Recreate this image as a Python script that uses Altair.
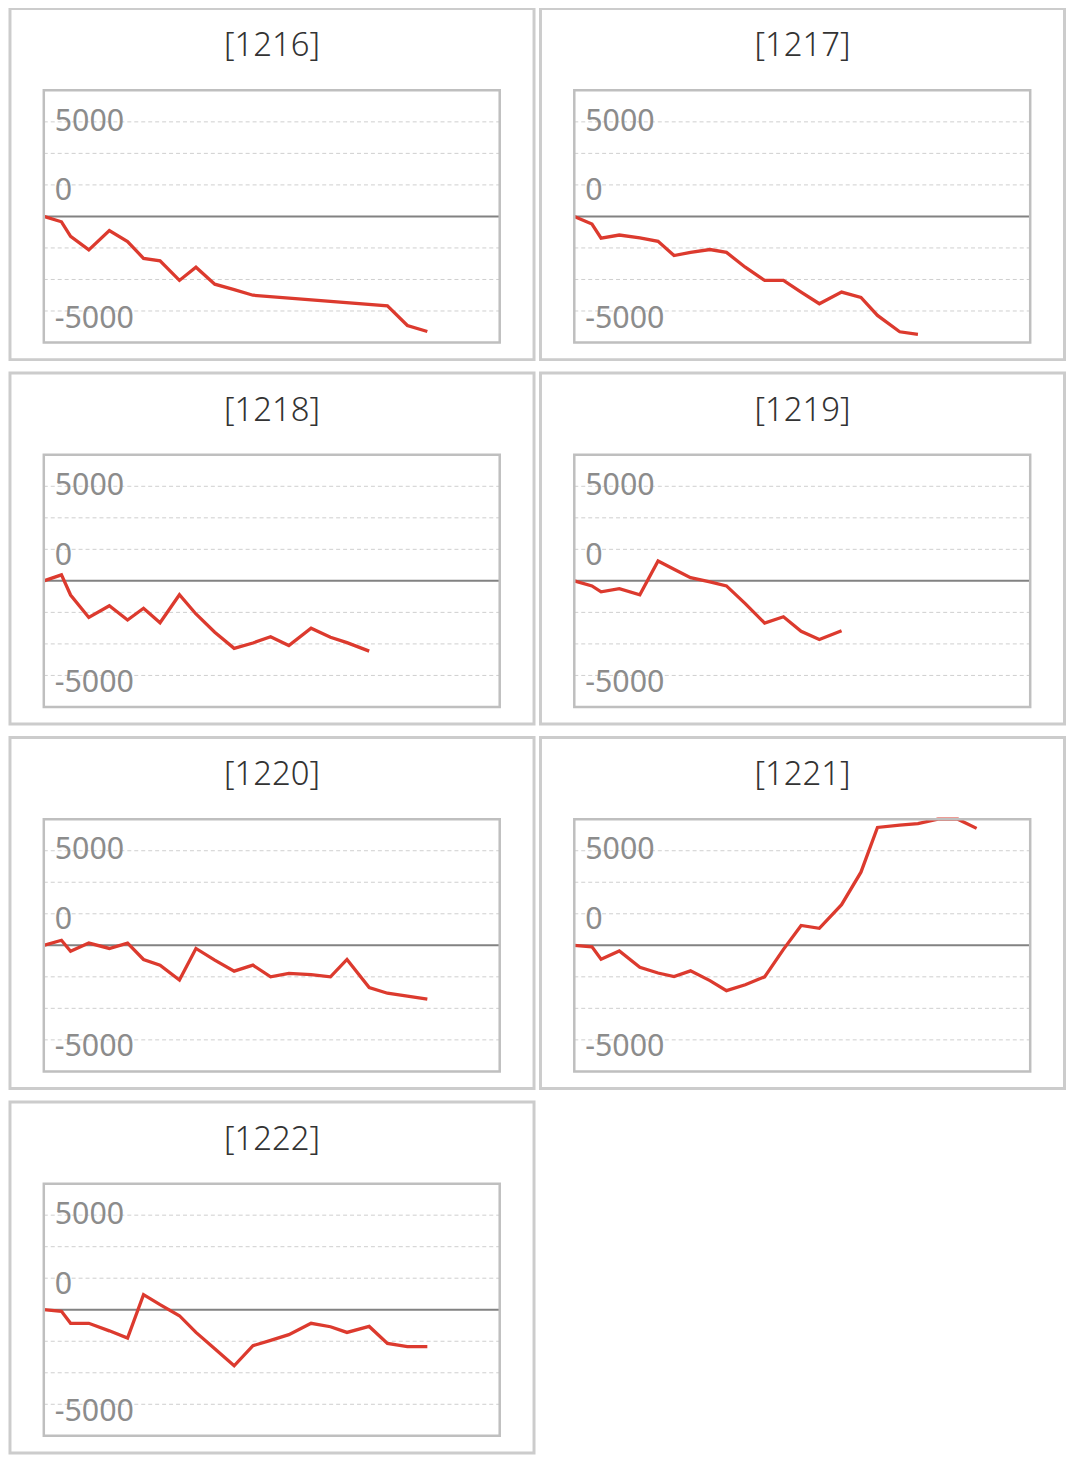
import altair as alt
import pandas as pd

# ---- data ----
MACHINES = ["[1216]", "[1217]", "[1218]", "[1219]", "[1220]", "[1221]", "[1222]"]

# game count at each sample point (shared by all machines)
GAMES = [0, 310, 470, 790, 1150, 1470, 1750, 2040, 2380, 2670, 3000, 3340,
         3670, 3980, 4300, 4690, 5030, 5320, 5710, 6030, 6380, 6730, 7060]

V1216 = [0, -425, -1575, -2650, -1125, -2000, -3325, -3525, -5075, -4025, -5375,
         -5800, -6250, None, None, None, None, None, None, -7100, -8650, -9125]
V1217 = [0, -600, -1725, -1475, -1700, -1975, -3100, -2850, -2625, -2850, -4025,
         -5075, -5075, -6000, -6925, -6000, -6425, -7850, -9150, -9350]
V1218 = [0, 475, -1125, -2900, -1975, -3100, -2175, -3325, -1100, -2625, -4075,
         -5350, -4925, -4425, -5125, -3750, -4475, -4900, -5575]
V1219 = [0, -400, -875, -625, -1100, 1575, 925, 250, -75, -400, -1800, -3350,
         -2850, -4000, -4650, -3950]
V1220 = [0, 400, -475, 175, -250, 175, -1125, -1575, -2750, -250, -1175, -2050,
         -1575, -2500, -2225, -2325, -2500, -1125, -3350, -3800, -4025, -4275]
V1221 = [0, -125, -1100, -450, -1750, -2200, -2475, -2025, -2800, -3600, -3125,
         -2500, -325, 1575, 1350, 3225, 5800, 9350, 9525, 9650, 10300, 10300, 9275]
V1222 = [0, -125, -1075, -1075, -1675, -2250, 1200, 400, -475, -1800, -3100,
         -4450, -2850, -2425, -1975, -1075, -1350, -1800, -1325, -2675, -2925, -2925]
SERIES = [V1216, V1217, V1218, V1219, V1220, V1221, V1222]

# y axis: dashed grid values, printed labels and where each label sits
GRID_VALUES = [-7500, -5000, -2500, 2500, 5000, 7500]
LABEL_TEXTS = ["5000", "0", "-5000"]
LABEL_AT = [7675, 2150, -7950]

X_DOMAIN = [0, 8000]
Y_DOMAIN = [-10000, 10000]

# ---- layout ----
PW, PH = 527, 353
FONT = "Noto Sans"
xscale = alt.Scale(domain=X_DOMAIN, range=[34, 492.5], nice=False, zero=False)
yscale = alt.Scale(domain=Y_DOMAIN, range=[335.8, 82.2], nice=False, zero=False, clamp=True)


def panel(title, values):
    df = pd.DataFrame({"g": GAMES[:len(values)], "v": values}).dropna()
    grid = pd.DataFrame({"v": GRID_VALUES, "x0": X_DOMAIN[0], "x1": X_DOMAIN[1]})
    zero = pd.DataFrame({"v": [0], "x0": [X_DOMAIN[0]], "x1": [X_DOMAIN[1]]})
    box = pd.DataFrame({"x0": [X_DOMAIN[0]], "x1": [X_DOMAIN[1]],
                        "y0": [Y_DOMAIN[0]], "y1": [Y_DOMAIN[1]]})
    labels = pd.DataFrame({"t": LABEL_TEXTS, "v": LABEL_AT, "x0": X_DOMAIN[0]})
    ttl = pd.DataFrame({"t": [title]})

    grid_l = alt.Chart(grid).mark_rule(color="#cfcfcf", strokeWidth=1, strokeDash=[4, 3]).encode(
        x=alt.X("x0:Q", scale=xscale, axis=None), x2="x1:Q",
        y=alt.Y("v:Q", scale=yscale, axis=None))
    zero_l = alt.Chart(zero).mark_rule(color="#828282", strokeWidth=2).encode(
        x=alt.X("x0:Q", scale=xscale, axis=None), x2="x1:Q",
        y=alt.Y("v:Q", scale=yscale, axis=None))
    lab_l = alt.Chart(labels).mark_text(align="left", baseline="middle", dx=11, dy=2,
                                        fontSize=30.5, font=FONT,
                                        color="#8c8c8c").encode(
        x=alt.X("x0:Q", scale=xscale, axis=None),
        y=alt.Y("v:Q", scale=yscale, axis=None), text="t:N")
    line_l = alt.Chart(df).mark_line(color="#dc3a2e", strokeWidth=3.3).encode(
        x=alt.X("g:Q", scale=xscale, axis=None),
        y=alt.Y("v:Q", scale=yscale, axis=None))
    box_l = alt.Chart(box).mark_rect(filled=False, stroke="#bfbfbf", strokeWidth=2.5).encode(
        x=alt.X("x0:Q", scale=xscale, axis=None), x2="x1:Q",
        y=alt.Y("y0:Q", scale=yscale, axis=None), y2="y1:Q")
    title_l = alt.Chart(ttl).mark_text(align="center", baseline="middle", fontSize=33,
                                       font=FONT, fontWeight=300, color="#333333").encode(
        x=alt.value(PW / 2), y=alt.value(38), text="t:N")
    return alt.layer(grid_l, zero_l, lab_l, line_l, box_l, title_l).properties(width=PW, height=PH)


panels = [panel(t, v) for t, v in zip(MACHINES, SERIES)]
chart = alt.concat(*panels, columns=2, spacing={"row": 9.5, "column": 2.5}).properties(
    padding={"left": 0, "top": -5.5, "right": 0, "bottom": 0}
).configure_view(stroke="#cccccc", strokeWidth=3)

chart.save("out.html", embed_options={"renderer": "svg", "actions": False})
